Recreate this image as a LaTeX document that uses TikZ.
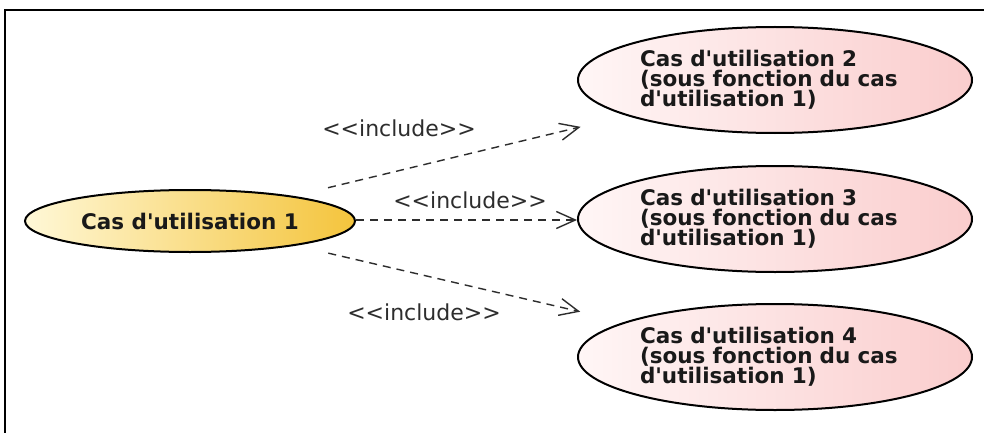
\documentclass[tikz,border=0pt]{standalone}
\usepackage{fontspec}
\setmainfont{DejaVu Sans}[Ligatures=TeXOff]
\usetikzlibrary{arrows.meta,calc,shapes.geometric}
\definecolor{txt}{RGB}{25,25,25}
\definecolor{lbl}{RGB}{45,45,45}
\definecolor{yl}{RGB}{255,248,215}
\definecolor{yr}{RGB}{244,196,60}
\definecolor{pl}{RGB}{255,246,246}
\definecolor{pr}{RGB}{250,205,205}
\tikzset{
  uc/.style={ellipse,draw=black,line width=2pt,inner sep=0pt,text=txt,
    font=\fontsize{21.5}{20}\selectfont\bfseries},
  ucmain/.style={uc,left color=yl,right color=yr,minimum width=330pt,minimum height=62pt},
  ucsub/.style={uc,left color=pl,right color=pr,minimum width=394pt,minimum height=106pt,
    align=left,text width=270pt},
  inc/.style={draw=lbl,line width=1.4pt,dash pattern=on 8pt off 6pt,
    -{Straight Barb[length=19pt,width=17pt,line width=1.4pt]}},
  inclbl/.style={text=lbl,font=\fontsize{22}{24}\selectfont,inner sep=0pt}
}
\begin{document}
\begin{tikzpicture}[x=1pt,y=-1pt]
\useasboundingbox (0,0) rectangle (984,433);
\fill[white] (0,0) rectangle (984,433);
\draw[line width=2pt] (5,433) -- (5,10) -- (984,10);
\node[ucmain] (u1) at (190,221) {Cas d'utilisation 1};
\node[ucsub] (u2) at (775,80) {Cas d'utilisation 2\\(sous fonction du cas\\d'utilisation 1)};
\node[ucsub] (u3) at (775,219) {Cas d'utilisation 3\\(sous fonction du cas\\d'utilisation 1)};
\node[ucsub] (u4) at (775,357) {Cas d'utilisation 4\\(sous fonction du cas\\d'utilisation 1)};
\draw[inc] ($(u1)!142pt!(u2)$) -- ($(u2)!200pt!(u1)$);
\draw[inc] (u1.east |- 0,220) -- (u3.west |- 0,220);
\draw[inc] ($(u1)!142pt!(u4)$) -- ($(u4)!200pt!(u1)$);
\node[inclbl] (l1) at (399,128) {<<include>>};
\node[inclbl] (l2) at (470,200) {<<include>>};
\node[inclbl] (l3) at (424,312) {<<include>>};
\end{tikzpicture}
\end{document}
